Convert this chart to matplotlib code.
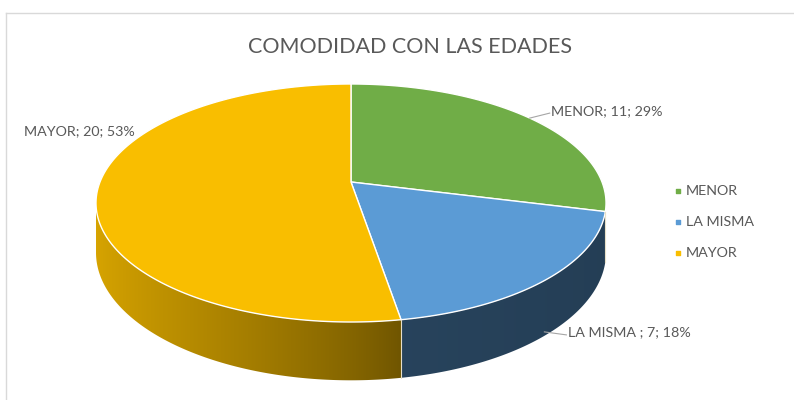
import numpy as np
import matplotlib
matplotlib.use("Agg")
import matplotlib.pyplot as plt
from matplotlib.patches import Polygon
from matplotlib.colors import to_rgb

plt.rcParams['font.family'] = ['Lato', 'DejaVu Sans']

title = "COMODIDAD CON LAS EDADES"
categories = ["MENOR", "LA MISMA ", "MAYOR"]
counts = [11, 7, 20]
colors = ["#70ad47", "#5b9bd5", "#f9be00"]

TEXT = "#595959"

# pie geometry in pixel space (perspective ellipse)
cx, cy = 351, 182
A, B, k = 251, 115.3, 0.1765
H = 48


def project(theta, depth=0.0, r=1.0):
    x = r * np.cos(theta)
    y = r * np.sin(theta)
    d = 1 + k * y
    return cx + A * x / d, cy - B * y / d + H * depth / d


def side_factor(theta):
    c = np.cos(theta)
    s = np.clip((0.17 - c) / 1.17, 0, 1) ** 0.8
    return np.where(s > 0, 0.44 + 0.43 * s, 0.44 - 0.04 * np.clip(c, 0, 1))


fig = plt.figure(figsize=(7.94, 4.0), dpi=100)
ax = fig.add_axes([0, 0, 1, 1])
ax.set_xlim(0, 794)
ax.set_ylim(400, 0)
ax.axis("off")

# chart border
ax.plot([6, 794], [13, 13], color="#d9d9d9", lw=1)
ax.plot([6, 6], [13, 400], color="#d9d9d9", lw=1)

total = sum(counts)
cum = np.cumsum([0] + counts)
starts = np.deg2rad(90 - cum[:-1] / total * 360)
ends = np.deg2rad(90 - cum[1:] / total * 360)

# visible part of the wall: front half between the silhouette tangents
vis_hi = -np.arcsin(k)
vis_lo = -np.pi + np.arcsin(k)

for i in range(len(counts)):
    hi = min(starts[i], vis_hi)
    lo = max(ends[i], vis_lo)
    if hi <= lo:
        continue
    th = np.linspace(hi, lo, 300)
    tu, tv = project(th)
    bu, bv = project(th, 1)
    poly = Polygon(np.column_stack([np.concatenate([tu, bu[::-1]]),
                                    np.concatenate([tv, bv[::-1]])]),
                   closed=True, facecolor="none", edgecolor="none")
    ax.add_patch(poly)
    # horizontal shading sampled along u
    us = np.linspace(tu.min(), tu.max(), 400)
    order = np.argsort(tu)
    f = np.interp(us, tu[order], side_factor(th[order]))
    grad = np.clip(f[None, :, None] * np.array(to_rgb(colors[i]))[None, None, :], 0, 1)
    img = ax.imshow(grad, extent=[us[0], us[-1], bv.max() + 1, tv.min() - 1],
                    aspect="auto", interpolation="bilinear")
    img.set_clip_path(poly)

# light seams on the wall where slices meet
for t in ends:
    if vis_lo < t < vis_hi:
        p, q = project(t), project(t, 1)
        ax.plot([p[0], q[0]], [p[1], q[1]], color="#e8e0c8", lw=0.8)

ax.set_xlim(0, 794)
ax.set_ylim(400, 0)

# top faces
for i in range(len(counts)):
    th = np.linspace(starts[i], ends[i], 300)
    u, v = project(th)
    xs = np.concatenate([[cx], u])
    ys = np.concatenate([[cy], v])
    ax.fill(xs, ys, facecolor=colors[i], edgecolor="white", lw=1.0)

# data labels
pcts = [round(c / total * 100) for c in counts]
mids = (starts + ends) / 2
label_style = dict(fontsize=10.3, color=TEXT, va="center")

# MENOR
ax0 = project(mids[0])
ax.plot([ax0[0], ax0[0] + 20], [ax0[1], ax0[1] - 5], color="#a6a6a6", lw=0.8)
ax.text(ax0[0] + 21, ax0[1] - 7, f"{categories[0]}; {counts[0]}; {pcts[0]}%", **label_style)

# LA MISMA
ax1 = project(mids[1], 0.95)
ax.plot([ax1[0] - 2, ax1[0] + 20], [ax1[1], ax1[1] + 3], color="#a6a6a6", lw=0.8)
ax.text(ax1[0] + 22, ax1[1], f"{categories[1]}; {counts[1]}; {pcts[1]}%", **label_style)

# MAYOR
ax2 = project(mids[2])
ax.text(ax2[0] + 38, ax2[1] - 61, f"{categories[2]}; {counts[2]}; {pcts[2]}%", ha="right", **label_style)

# title
ax.text(410, 47, title, fontsize=15.5, color=TEXT, ha="center", va="center")

# legend
for i, name in enumerate(categories):
    y = 191 + i * 31
    ax.scatter([678], [y], marker="s", s=12, color=colors[i])
    ax.text(686, y, name.strip(), fontsize=10.3, color=TEXT, va="center")

fig.savefig("out.png", dpi=100)
